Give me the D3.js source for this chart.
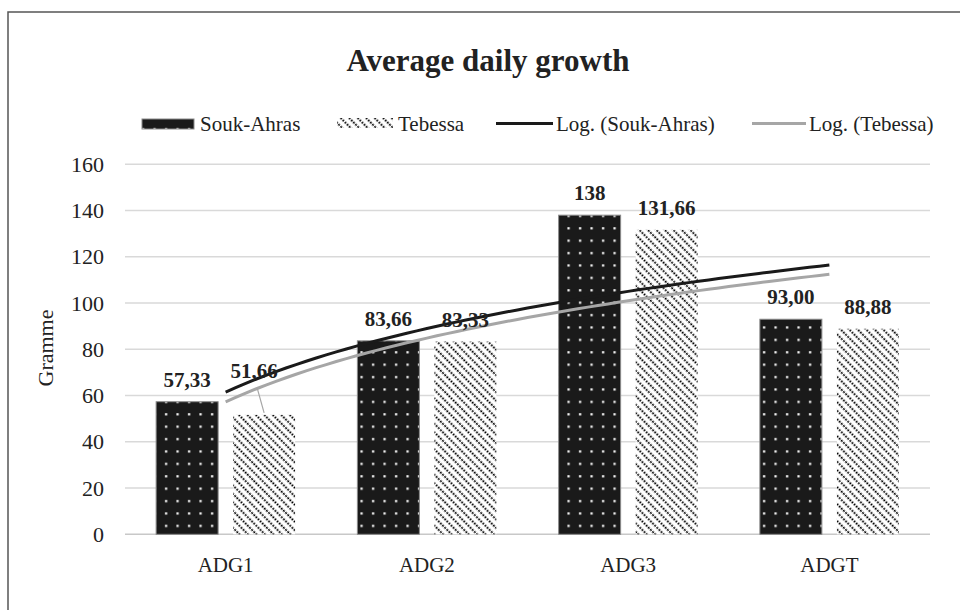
<!DOCTYPE html>
<html>
<head>
<meta charset="utf-8">
<script src="https://cdn.jsdelivr.net/npm/d3@7"></script>
<style>
  body { margin: 0; background: #fff; }
  svg text { font-family: "Liberation Serif", "Times New Roman", serif; fill: #222; }
</style>
</head>
<body>
<script>
// data
var categories = ["ADG1", "ADG2", "ADG3", "ADGT"];
var seriesNames = ["Souk-Ahras", "Tebessa"];
var soukAhras = [57.33, 83.66, 138, 93.00];
var tebessa = [51.66, 83.33, 131.66, 88.88];
var labelsSouk = ["57,33", "83,66", "138", "93,00"];
var labelsTebessa = ["51,66", "83,33", "131,66", "88,88"];
var yTicks = [0, 20, 40, 60, 80, 100, 120, 140, 160];

var serif = "'Liberation Serif', 'Times New Roman', serif";
var width = 960, height = 610;

var svg = d3.select("body").append("svg")
    .attr("width", width)
    .attr("height", height)
    .attr("font-family", serif);

// patterns for the two series
var defs = svg.append("defs");
var dots = defs.append("pattern")
    .attr("id", "dots")
    .attr("patternUnits", "userSpaceOnUse")
    .attr("width", 11.5).attr("height", 12.4);
dots.append("rect").attr("width", 11.5).attr("height", 12.4).attr("fill", "#1a1a1a");
dots.append("rect").attr("x", 4).attr("y", 4).attr("width", 2.2).attr("height", 2.2).attr("fill", "#fff");

var hatch = defs.append("pattern")
    .attr("id", "hatch")
    .attr("patternUnits", "userSpaceOnUse")
    .attr("width", 6).attr("height", 6)
    .attr("patternTransform", "rotate(-45)");
hatch.append("rect").attr("width", 6).attr("height", 6).attr("fill", "#fff");
hatch.append("line")
    .attr("x1", 1.5).attr("y1", 0).attr("x2", 1.5).attr("y2", 6)
    .attr("stroke", "#000").attr("stroke-width", 1.7)
    .attr("stroke-dasharray", "2 1");

// outer frame
svg.append("rect")
    .attr("x", 8).attr("y", 12)
    .attr("width", 970).attr("height", 620)
    .attr("fill", "none")
    .attr("stroke", "#555").attr("stroke-width", 1.5);

// title
svg.append("text")
    .attr("x", 488).attr("y", 71)
    .attr("text-anchor", "middle")
    .style("font-size", "31px").style("font-weight", "bold")
    .text("Average daily growth");

// scales
var x0 = d3.scaleBand().domain(categories).range([125, 930]);
var y = d3.scaleLinear().domain([0, 160]).range([534.3, 164.3]);
var barW = 62, gap = 15;
var pad = (x0.bandwidth() - 2 * barW - gap) / 2;

// gridlines
svg.append("g").selectAll("line")
    .data(yTicks)
    .enter().append("line")
    .attr("x1", 125).attr("x2", 930)
    .attr("y1", function (d) { return y(d); })
    .attr("y2", function (d) { return y(d); })
    .attr("stroke", function (d) { return d === 0 ? "#c8c8c8" : "#d9d9d9"; })
    .attr("stroke-width", 1.5);

// y axis labels
var yAxis = svg.append("g")
    .attr("transform", "translate(112,0)")
    .call(d3.axisLeft(y).tickValues(yTicks).tickSize(0).tickPadding(8))
    .attr("font-family", serif)
    .attr("font-size", 22);
yAxis.select(".domain").remove();
yAxis.selectAll("text").attr("fill", "#222");

// x axis labels
var xAxis = svg.append("g")
    .attr("transform", "translate(0,549)")
    .call(d3.axisBottom(x0).tickSize(0).tickPadding(8))
    .attr("font-family", serif)
    .attr("font-size", 21);
xAxis.select(".domain").remove();
xAxis.selectAll("text").attr("fill", "#222");

// y axis title
svg.append("text")
    .attr("transform", "translate(53,348) rotate(-90)")
    .attr("text-anchor", "middle")
    .style("font-size", "22px")
    .text("Gramme");

// bars
var barsG = svg.append("g");
barsG.selectAll(".souk")
    .data(soukAhras)
    .enter().append("rect")
    .attr("class", "souk")
    .attr("x", function (d, i) { return x0(categories[i]) + pad; })
    .attr("y", function (d) { return y(d); })
    .attr("width", barW)
    .attr("height", function (d) { return y(0) - y(d); })
    .attr("fill", "url(#dots)")
    .attr("stroke", "#8a8a8a").attr("stroke-width", 1);

barsG.selectAll(".teb")
    .data(tebessa)
    .enter().append("rect")
    .attr("class", "teb")
    .attr("x", function (d, i) { return x0(categories[i]) + pad + barW + gap; })
    .attr("y", function (d) { return y(d); })
    .attr("width", barW)
    .attr("height", function (d) { return y(0) - y(d); })
    .attr("fill", "url(#hatch)");

// logarithmic trendlines (least squares on ln(x))
function logFit(vals) {
    var xs = vals.map(function (d, i) { return Math.log(i + 1); });
    var mx = d3.mean(xs), my = d3.mean(vals);
    var sxy = d3.sum(xs, function (v, i) { return (v - mx) * (vals[i] - my); });
    var sxx = d3.sum(xs, function (v) { return (v - mx) * (v - mx); });
    var a = sxy / sxx, b = my - a * mx;
    return function (t) { return a * Math.log(t) + b; };
}
var xc = d3.scaleLinear()
    .domain([1, categories.length])
    .range([x0(categories[0]) + x0.bandwidth() / 2,
            x0(categories[categories.length - 1]) + x0.bandwidth() / 2]);
var steps = d3.range(1, categories.length + 0.001, 0.05);
var line = d3.line()
    .x(function (d) { return xc(d[0]); })
    .y(function (d) { return y(d[1]); });

var fitS = logFit(soukAhras), fitT = logFit(tebessa);
svg.append("path")
    .datum(steps.map(function (t) { return [t, fitS(t)]; }))
    .attr("d", line)
    .attr("fill", "none").attr("stroke", "#1a1a1a").attr("stroke-width", 3);
svg.append("path")
    .datum(steps.map(function (t) { return [t, fitT(t)]; }))
    .attr("d", line)
    .attr("fill", "none").attr("stroke", "#a6a6a6").attr("stroke-width", 3);

// data labels
var lbl = svg.append("g")
    .style("font-size", "21px").style("font-weight", "bold");
lbl.selectAll(".ls")
    .data(soukAhras)
    .enter().append("text")
    .attr("text-anchor", "middle")
    .attr("x", function (d, i) { return x0(categories[i]) + pad + barW / 2; })
    .attr("y", function (d) { return y(d) - 15; })
    .text(function (d, i) { return labelsSouk[i]; });
lbl.selectAll(".lt")
    .data(tebessa)
    .enter().append("text")
    .attr("text-anchor", "middle")
    .attr("x", function (d, i) {
        var cx = x0(categories[i]) + pad + barW * 1.5 + gap;
        return i === 0 ? cx - 10 : cx;
    })
    .attr("y", function (d, i) { return i === 0 ? y(d) - 37 : y(d) - 15; })
    .text(function (d, i) { return labelsTebessa[i]; });

// leader line for the moved ADG1 Tebessa label
var firstT = x0(categories[0]) + pad + barW * 1.5 + gap;
svg.append("line")
    .attr("x1", firstT - 7).attr("y1", y(tebessa[0]) - 27)
    .attr("x2", firstT).attr("y2", y(tebessa[0]) - 2)
    .attr("stroke", "#a6a6a6").attr("stroke-width", 1.2);

// legend
var legend = svg.append("g").style("font-size", "21px");
legend.append("rect")
    .attr("x", 142).attr("y", 119).attr("width", 52).attr("height", 10)
    .attr("fill", "url(#dots)").attr("stroke", "#8a8a8a").attr("stroke-width", 1);
legend.append("text").attr("x", 200).attr("y", 131).text(seriesNames[0]);
legend.append("rect")
    .attr("x", 337).attr("y", 118).attr("width", 56).attr("height", 10)
    .attr("fill", "url(#hatch)");
legend.append("text").attr("x", 398).attr("y", 131).text(seriesNames[1]);
legend.append("line")
    .attr("x1", 496).attr("x2", 553).attr("y1", 123.5).attr("y2", 123.5)
    .attr("stroke", "#1a1a1a").attr("stroke-width", 3);
legend.append("text").attr("x", 556).attr("y", 131).text("Log. (" + seriesNames[0] + ")");
legend.append("line")
    .attr("x1", 752).attr("x2", 806).attr("y1", 123.5).attr("y2", 123.5)
    .attr("stroke", "#a6a6a6").attr("stroke-width", 3);
legend.append("text").attr("x", 809).attr("y", 131).text("Log. (" + seriesNames[1] + ")");
</script>
</body>
</html>
